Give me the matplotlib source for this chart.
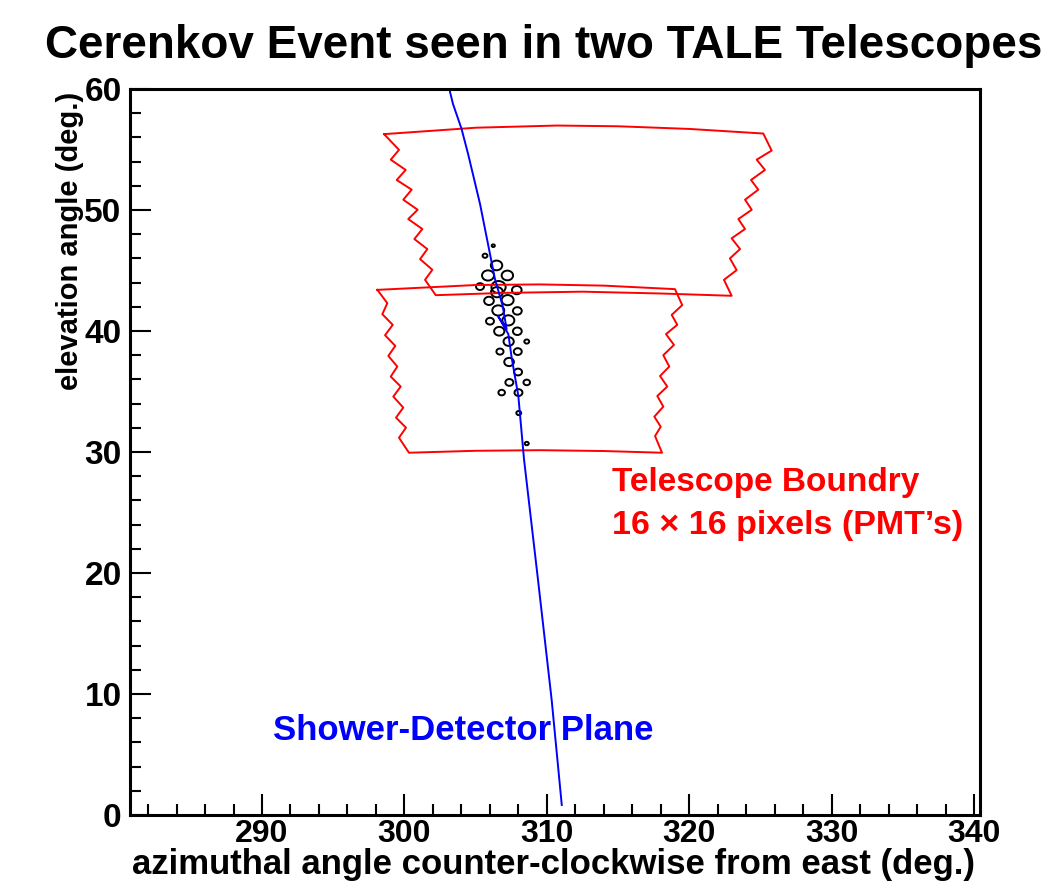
import matplotlib
matplotlib.use("Agg")
import matplotlib.pyplot as plt
from matplotlib.patches import Ellipse
from matplotlib.ticker import MultipleLocator

plt.rcParams['font.family'] = ['Liberation Sans', 'DejaVu Sans']
plt.rcParams['font.weight'] = 'bold'

# ---- data (azimuth deg, elevation deg) ----
upper_left_az = [298.57, 299.62, 299.04, 300.09, 299.46, 300.51, 299.92, 300.93, 300.27,
                 301.26, 300.70, 301.61, 301.10, 301.96, 301.45, 302.20]
upper_left_el = [56.27, 54.97, 54.16, 53.31, 52.48, 51.68, 50.85, 50.02, 49.25,
                 48.43, 47.60, 46.77, 45.94, 45.06, 44.23, 42.96]
upper_bottom_az = [307.0, 312.5, 318.0]
upper_bottom_el = [43.15, 43.25, 43.1]
upper_right_az = [322.98, 322.44, 323.33, 322.86, 323.57, 322.98, 323.92, 323.45, 324.39,
                  323.92, 324.85, 324.34, 325.32, 324.74, 325.79, 325.20]
upper_right_el = [42.91, 44.23, 45.03, 46.00, 46.77, 47.66, 48.43, 49.25, 50.02,
                  50.85, 51.68, 52.48, 53.31, 54.16, 54.91, 56.32]
upper_top_az = [320.0, 315.0, 310.7, 305.0]
upper_top_el = [56.70, 56.92, 56.98, 56.80]

lower_left_az = [298.10, 298.80, 298.45, 299.18, 298.64, 299.36, 298.87, 299.50, 299.04,
                 299.74, 299.22, 299.92, 299.41, 300.11, 299.62, 300.32]
lower_left_el = [43.40, 42.30, 41.39, 40.51, 39.65, 38.77, 37.94, 37.06, 36.23,
                 35.41, 34.58, 33.67, 32.84, 32.01, 31.18, 29.94]
lower_bottom_az = [305.0, 309.5, 314.0]
lower_bottom_el = [30.10, 30.15, 30.08]
lower_right_az = [318.09, 317.60, 318.00, 317.55, 318.18, 317.76, 318.46, 317.95, 318.60,
                  318.18, 318.93, 318.37, 319.16, 318.77, 319.51, 319.00]
lower_right_el = [29.94, 31.32, 32.09, 32.92, 33.75, 34.63, 35.41, 36.28, 37.06,
                  38.00, 38.85, 39.74, 40.51, 41.33, 42.14, 43.46]
lower_top_az = [314.0, 309.5, 305.0]
lower_top_el = [43.75, 43.85, 43.80]

sdp_az = [303.20, 303.41, 304.01, 304.47, 304.89, 305.31, 305.66, 306.01, 306.36,
          306.90, 307.18, 306.59, 307.30, 307.53, 308.00, 308.40, 309.38, 310.34, 311.05]
sdp_el = [59.77, 58.77, 56.71, 54.64, 52.57, 50.50, 48.43, 46.36, 44.29,
          42.08, 40.15, 41.20, 39.74, 37.81, 34.63, 29.39, 19.45, 9.52, 0.83]

hit_az = [306.24, 305.66, 306.47, 305.87, 307.23, 305.31, 306.61, 306.50, 307.89, 305.94,
          307.25, 306.59, 307.93, 306.01, 307.30, 306.66, 307.93, 307.32, 308.59, 306.71,
          307.96, 307.35, 307.98, 307.37, 308.59, 306.83, 308.01, 308.03, 308.59]
hit_el = [47.05, 46.22, 45.42, 44.59, 44.59, 43.67, 43.63, 43.21, 43.38, 42.49,
          42.55, 41.70, 41.66, 40.81, 40.88, 39.98, 39.98, 39.13, 39.13, 38.30,
          38.30, 37.44, 36.61, 35.75, 35.75, 34.91, 34.91, 33.22, 30.70]
hit_size = [0.11, 0.17, 0.40, 0.42, 0.40, 0.28, 0.50, 0.42, 0.34, 0.34,
            0.42, 0.42, 0.31, 0.28, 0.42, 0.36, 0.31, 0.36, 0.17, 0.25,
            0.28, 0.34, 0.28, 0.28, 0.23, 0.23, 0.28, 0.17, 0.14]

x_ticks = [290, 300, 310, 320, 330, 340]
y_ticks = [0, 10, 20, 30, 40, 50, 60]

# ---- figure ----
fig = plt.figure(figsize=(10.52, 8.91), dpi=100)
ax = fig.add_axes([130 / 1052, 1 - 815 / 891, 850 / 1052, 726 / 891])
ax.set_xlim(280.73, 340.42)
ax.set_ylim(0, 60)

def outline(*parts):
    az, el = [], []
    for a, e in parts:
        az += a
        el += e
    az.append(az[0])
    el.append(el[0])
    return az, el

ua, ue = outline((upper_left_az, upper_left_el), (upper_bottom_az, upper_bottom_el),
                 (upper_right_az, upper_right_el), (upper_top_az, upper_top_el))
la, le = outline((lower_left_az, lower_left_el), (lower_bottom_az, lower_bottom_el),
                 (lower_right_az, lower_right_el), (lower_top_az, lower_top_el))
ax.plot(ua, ue, color='#ff0000', lw=1.4)
ax.plot(la, le, color='#ff0000', lw=1.4)

sx = 1.0
sy = 14.24 / 12.08 * 0.85
for a, e, s in zip(hit_az, hit_el, hit_size):
    ax.add_patch(Ellipse((a, e), 2 * s * sx, 2 * s * sy, fill=False, ec='black', lw=1.4))

ax.plot(sdp_az, sdp_el, color='#0000ff', lw=1.4)

ax.text(314.56, 26.76, "Telescope Boundry", color='#ff0000', fontsize=24, fontweight='bold')
ax.text(314.56, 23.26, "16 \u00d7 16 pixels (PMT\u2019s)", color='#ff0000', fontsize=24.5, fontweight='bold')
ax.text(290.75, 6.21, "Shower-Detector Plane", color='#0000ff', fontsize=25, fontweight='bold')

ax.set_xticks(x_ticks)
ax.set_yticks(y_ticks)
ax.xaxis.set_minor_locator(MultipleLocator(2))
ax.yaxis.set_minor_locator(MultipleLocator(2))
ax.tick_params(which='both', direction='in', top=False, right=False, width=1.5)
ax.tick_params(axis='x', labelsize=23, pad=3)
ax.tick_params(axis='y', labelsize=24, pad=6)
ax.tick_params(which='major', length=15)
ax.tick_params(which='minor', length=8)
for lab in ax.get_xticklabels() + ax.get_yticklabels():
    lab.set_fontweight('bold')
for sp in ax.spines.values():
    sp.set_linewidth(2.2)

fig.text(544 / 1052, 1 - 58 / 891, "Cerenkov Event seen in two TALE Telescopes",
         ha='center', va='baseline', fontsize=33, fontweight='bold')
fig.text(975 / 1052, 1 - 874 / 891, "azimuthal angle counter-clockwise from east (deg.)",
         ha='right', va='baseline', fontsize=25, fontweight='bold')
fig.text(70 / 1052, 1 - 92 / 891, "elevation angle (deg.)", rotation=90,
         ha='center', va='top', fontsize=21, fontweight='bold')

fig.savefig("out.png", dpi=100, facecolor='white')
